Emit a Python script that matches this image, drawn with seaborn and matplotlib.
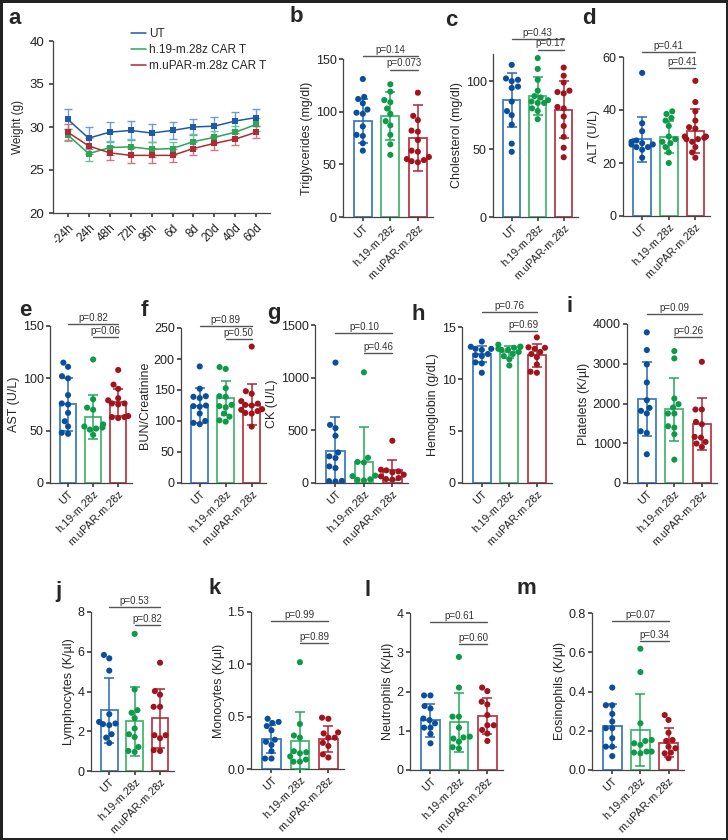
import warnings
import numpy as np
import pandas as pd
import matplotlib
matplotlib.use("Agg")
import matplotlib.pyplot as plt
import seaborn as sns

warnings.filterwarnings("ignore")

groups = ["UT", "h.19-m.28z", "m.uPAR-m.28z"]
line_labels = ["UT", "h.19-m.28z CAR T", "m.uPAR-m.28z CAR T"]

# panel a - body weight
times = ["-24h", "24h", "48h", "72h", "96h", "6d", "8d", "20d", "40d", "60d"]
wt_ut = [30.9, 28.7, 29.4, 29.6, 29.3, 29.6, 30.0, 30.1, 30.7, 31.1]
wt_h19 = [29.1, 26.9, 27.6, 27.7, 27.4, 27.5, 28.3, 28.8, 29.4, 30.3]
wt_mu = [29.4, 27.8, 27.0, 26.7, 26.7, 26.7, 27.5, 28.1, 28.6, 29.4]
wt_ut_sd = [1.15, 1.3, 1.2, 1.1, 1.0, 1.0, 0.9, 1.1, 1.0, 1.0]
wt_h19_sd = [0.7, 0.8, 0.8, 0.9, 0.9, 0.8, 0.9, 0.7, 0.7, 0.8]
wt_mu_sd = [0.9, 0.9, 0.8, 0.9, 0.9, 0.8, 0.8, 0.8, 0.7, 0.7]

# b - triglycerides
tg_pts = [[131, 114, 112, 108, 102, 99, 98, 86, 78, 77, 70, 63],
          [126, 119, 111, 109, 103, 98, 91, 87, 78, 69, 59],
          [118, 96, 92, 82, 81, 73, 63, 62, 57, 55, 54, 53, 52]]
tg_mean = [91, 96, 75]
tg_sd = [21, 23, 31]
# c - cholesterol
ch_pts = [[112, 102, 101, 100, 96, 95, 85, 78, 75, 68, 54, 48],
          [117, 109, 101, 93, 89, 88, 86, 85, 84, 84, 80, 78, 72],
          [110, 104, 99, 93, 92, 91, 81, 80, 74, 67, 59, 51, 44]]
ch_mean = [86, 89, 79]
ch_sd = [20, 14, 21]
# d - ALT
alt_pts = [[54, 35, 32, 28.5, 28, 27.5, 27, 27, 26, 26, 25, 22],
           [39.5, 38.5, 37, 36, 34, 30, 29, 28, 27.5, 26, 24, 20],
           [51, 43, 39.5, 36, 33.5, 33, 30, 30, 29.5, 29, 29, 28, 26, 24, 22]]
alt_mean = [29, 29.7, 32]
alt_sd = [8.5, 6, 8.3]
# e - AST
ast_pts = [[115, 111, 102, 100, 84, 76, 75, 67, 59, 54, 48, 47],
           [118, 80, 72, 70, 56, 54, 53, 52, 51, 46],
           [108, 94, 90, 81, 79, 76, 76, 75, 64, 63, 63, 62]]
ast_mean = [75, 63, 77]
ast_sd = [25, 21, 13]
# f - BUN/creatinine
bun_pts = [[188, 152, 140, 139, 137, 125, 124, 123, 112, 100, 97, 95],
           [187, 184, 153, 140, 139, 126, 124, 122, 112, 107, 101, 99],
           [220, 148, 144, 132, 128, 126, 125, 119, 118, 116, 113, 112, 91]]
bun_mean = [125, 137, 126]
bun_sd = [28, 28, 33]
# g - CK
ck_pts = [[1143, 552, 521, 448, 290, 253, 237, 158, 142, 20, 18, 15],
          [1051, 240, 200, 195, 70, 65, 35, 30, 25],
          [401, 126, 120, 110, 101, 79, 63, 47, 38, 32]]
ck_mean = [300, 200, 126]
ck_sd = [330, 330, 95]
# h - hemoglobin
hb_pts = [[13.6, 13.1, 12.9, 12.9, 12.8, 12.4, 12.3, 12.2, 11.6, 11.5, 10.6],
          [13.3, 13.1, 13.1, 13.0, 12.9, 12.8, 12.8, 12.6, 12.4, 12.2, 11.9, 11.3],
          [14.0, 13.05, 13.0, 12.9, 12.6, 12.4, 12.1, 11.4, 10.7, 10.6]]
hb_mean = [12.4, 12.6, 12.3]
hb_sd = [0.8, 0.6, 1.1]
# i - platelets
plt_pts = [[3790, 3345, 2983, 2529, 2084, 1890, 1815, 1750, 1302, 1260, 723],
           [3320, 3135, 2126, 1983, 1899, 1748, 1748, 1428, 1395, 1227, 588],
           [3050, 1849, 1849, 1538, 1479, 1160, 1143, 1034, 992, 908]]
plt_mean = [2110, 1850, 1480]
plt_sd = [940, 800, 650]
# j - lymphocytes
lym_pts = [[5.84, 5.67, 5.05, 2.86, 2.47, 2.39, 2.36, 2.31, 1.85, 1.68, 1.41],
           [6.9, 4.1, 3.06, 2.93, 2.66, 2.14, 1.85, 1.71, 1.21, 1.01, 0.96],
           [5.45, 4.02, 3.84, 3.23, 3.23, 1.8, 1.8, 1.65, 1.05, 1.01]]
lym_mean = [3.06, 2.5, 2.65]
lym_sd = [1.63, 1.75, 1.5]
# k - monocytes
mon_pts = [[0.48, 0.45, 0.44, 0.41, 0.37, 0.28, 0.26, 0.23, 0.17, 0.10, 0.10],
           [1.02, 0.43, 0.32, 0.30, 0.17, 0.16, 0.15, 0.12, 0.09, 0.07, 0.07],
           [0.49, 0.48, 0.35, 0.34, 0.30, 0.30, 0.25, 0.22, 0.14, 0.11]]
mon_mean = [0.29, 0.27, 0.29]
mon_sd = [0.135, 0.27, 0.125]
# l - neutrophils
neu_pts = [[1.9, 1.9, 1.63, 1.57, 1.31, 1.27, 1.19, 1.08, 1.08, 0.92, 0.68],
           [2.88, 2.1, 1.36, 1.36, 1.08, 0.85, 0.83, 0.8, 0.72, 0.58, 0.55],
           [2.1, 2.01, 1.74, 1.67, 1.4, 1.14, 1.14, 1.02, 0.93, 0.74]]
neu_mean = [1.27, 1.22, 1.38]
neu_sd = [0.42, 0.75, 0.46]
# m - eosinophils
eos_pts = [[0.42, 0.33, 0.33, 0.286, 0.247, 0.213, 0.213, 0.162, 0.119, 0.119, 0.071],
           [0.618, 0.499, 0.238, 0.153, 0.148, 0.136, 0.128, 0.094, 0.094, 0.089, 0.085],
           [0.28, 0.255, 0.19, 0.153, 0.148, 0.119, 0.111, 0.089, 0.085, 0.06]]
eos_mean = [0.225, 0.204, 0.14]
eos_sd = [0.11, 0.183, 0.072]

sns.set_theme(style="ticks")
plt.rcParams["font.family"] = ["Liberation Sans", "DejaVu Sans"]
plt.rcParams["axes.edgecolor"] = "#444444"
plt.rcParams["axes.linewidth"] = 0.9
plt.rcParams["xtick.color"] = "#444444"
plt.rcParams["ytick.color"] = "#444444"
plt.rcParams["xtick.labelcolor"] = "#222222"
plt.rcParams["ytick.labelcolor"] = "#222222"
plt.rcParams["xtick.major.size"] = 3
plt.rcParams["ytick.major.size"] = 3

dot_cols = ["#0b4f9c", "#0e9a48", "#a0141e"]
bar_cols = ["#3f7cc2", "#45b872", "#bb3a46"]
err_cols = ["#2a68b0", "#24a858", "#ad2633"]
line_cols = ["#1f5aa6", "#2ca55a", "#b22a35"]
line_err_cols = ["#6f9bd2", "#6cc48f", "#d07680"]

fig = plt.figure(figsize=(7.28, 8.4), dpi=100, linewidth=2.5, edgecolor="#222222")
W, H = 728, 840


def px_axes(left, top, right, bottom):
    return fig.add_axes([left / W, 1 - bottom / H, (right - left) / W, (bottom - top) / H])


def letter(x, y, s):
    fig.text(x / W, 1 - y / H, s, fontsize=16, fontweight="bold", ha="center", va="center")


# panel a
ax = px_axes(53, 41, 270, 213)
wt_df = pd.DataFrame({
    "time": times * 3,
    "weight": wt_ut + wt_h19 + wt_mu,
    "group": np.repeat(line_labels, len(times)),
})
sns.lineplot(data=wt_df, x="time", y="weight", hue="group", hue_order=line_labels,
             palette=line_cols, marker="s", markersize=5, markeredgewidth=0,
             linewidth=1.1, sort=False, ax=ax)
for vals, sds, c in zip([wt_ut, wt_h19, wt_mu], [wt_ut_sd, wt_h19_sd, wt_mu_sd], line_err_cols):
    ax.errorbar(times, vals, yerr=sds, fmt="none", ecolor=c, elinewidth=1, capsize=3, zorder=1)
ax.set_xlim(-0.7, 9.65)
ax.set_ylim(20, 40)
ax.set_yticks([20, 25, 30, 35, 40])
ax.set_xlabel("")
ax.set_ylabel("Weight (g)", fontsize=8.5)
ax.tick_params(axis="y", labelsize=9.5)
plt.setp(ax.get_xticklabels(), rotation=45, ha="right", rotation_mode="anchor", fontsize=8.5)
handles, labels = ax.get_legend_handles_labels()
for h in handles:
    h.set_marker("")
ax.legend(handles, labels, loc="upper left", bbox_to_anchor=(0.33, 1.11), frameon=False,
          fontsize=8.5, handlelength=1.3, handletextpad=0.3, labelspacing=0.35, borderpad=0)
sns.despine(ax=ax)
letter(15, 18, "a")


def bar_panel(rect, pts, means, sds, ylabel, ylim, yticks, pvals, pfrac, lab, labpos):
    ax = px_axes(*rect)
    pts_df = pd.DataFrame({
        "group": np.repeat(groups, [len(p) for p in pts]),
        "value": np.concatenate(pts),
    })
    mean_df = pd.DataFrame({"group": groups, "mean": means})
    sns.barplot(data=mean_df, x="group", y="mean", hue="group", order=groups, hue_order=groups,
                palette=bar_cols, fill=False, width=0.66, linewidth=1.3, errorbar=None,
                legend=False, ax=ax)
    xs = sorted(p.get_x() + p.get_width() / 2 for p in ax.patches)
    for x, m, s, c in zip(xs, means, sds, err_cols):
        ax.errorbar(x, m, yerr=s, fmt="none", ecolor=c, elinewidth=1.1, capsize=3.5,
                    capthick=1.1, zorder=3)
    sns.swarmplot(data=pts_df, x="group", y="value", hue="group", order=groups, hue_order=groups,
                  palette=dot_cols, size=4.4, legend=False, ax=ax, zorder=4)
    ax.set_xlim(-0.72, 2.55)
    ax.set_ylim(*ylim)
    ax.set_yticks(yticks)
    ax.set_xlabel("")
    ax.set_ylabel(ylabel, fontsize=9, labelpad=2)
    ax.tick_params(axis="y", labelsize=9, pad=1.5)
    ax.tick_params(axis="x", pad=1.5)
    plt.setp(ax.get_xticklabels(), rotation=45, ha="right", rotation_mode="anchor", fontsize=7.8)
    sns.despine(ax=ax)
    top = ylim[1]
    for (x0, x1), frac, p in zip([(xs[0], xs[2]), (xs[1], xs[2])], pfrac, pvals):
        y = top * frac
        ax.plot([x0, x1], [y, y], color="#555555", lw=1, clip_on=False)
        ax.annotate(p, xy=((x0 + x1) / 2, y), xytext=(0, 0.8), textcoords="offset points",
                    ha="center", va="bottom", fontsize=7, color="#333333",
                    annotation_clip=False)
    letter(labpos[0], labpos[1], lab)
    return ax


bar_panel((343, 59, 433, 217), tg_pts, tg_mean, tg_sd, "Triglycerides (mg/dl)", (0, 150),
          [0, 50, 100, 150], ["p=0.14", "p=0.073"], (1.017, 0.933), "b", (296, 16))
bar_panel((493, 54, 578, 217), ch_pts, ch_mean, ch_sd, "Cholesterol (mg/dl)", (0, 120),
          [0, 50, 100], ["p=0.43", "p=0.17"], (1.09, 1.027), "c", (451, 20))
bar_panel((623, 57, 710, 216), alt_pts, alt_mean, alt_sd, "ALT (U/L)", (0, 60),
          [0, 20, 40, 60], ["p=0.41", "p=0.41"], (1.03, 0.93), "d", (589, 19))
bar_panel((50, 326, 132, 483), ast_pts, ast_mean, ast_sd, "AST (U/L)", (0, 150),
          [0, 50, 100, 150], ["p=0.82", "p=0.06"], (1.01, 0.93), "e", (25, 310))
bar_panel((181, 328, 266, 483), bun_pts, bun_mean, bun_sd, "BUN/Creatinine", (0, 250),
          [0, 50, 100, 150, 200, 250], ["p=0.89", "p=0.50"], (1.015, 0.93), "f", (144, 310))
bar_panel((315, 325, 408, 483), ck_pts, ck_mean, ck_sd, "CK (U/L)", (0, 1500),
          [0, 500, 1000, 1500], ["p=0.10", "p=0.46"], (0.95, 0.825), "g", (274, 313))
bar_panel((462, 327, 552, 483), hb_pts, hb_mean, hb_sd, "Hemoglobin (g/dL)", (0, 15),
          [0, 5, 10, 15], ["p=0.76", "p=0.69"], (1.095, 0.975), "h", (418, 314))
bar_panel((627, 324, 717, 483), plt_pts, plt_mean, plt_sd, "Platelets (K/µl)", (0, 4000),
          [0, 1000, 2000, 3000, 4000], ["p=0.09", "p=0.26"], (1.06, 0.92), "i", (570, 307))
bar_panel((91, 612, 174, 771), lym_pts, lym_mean, lym_sd, "Lymphocytes (K/µl)", (0, 8),
          [0, 2, 4, 6, 8], ["p=0.53", "p=0.82"], (1.03, 0.92), "j", (58, 592))
bar_panel((251, 612, 344, 769), mon_pts, mon_mean, mon_sd, "Monocytes (K/µl)", (0, 1.5),
          [0.0, 0.5, 1.0, 1.5], ["p=0.99", "p=0.89"], (0.94, 0.80), "k", (215, 588))
bar_panel((410, 613, 503, 770), neu_pts, neu_mean, neu_sd, "Neutrophils (K/µl)", (0, 4),
          [0, 1, 2, 3, 4], ["p=0.61", "p=0.60"], (0.94, 0.805), "l", (368, 590))
bar_panel((592, 613, 684, 770), eos_pts, eos_mean, eos_sd, "Eosinophils (K/µl)", (0, 0.8),
          [0.0, 0.2, 0.4, 0.6, 0.8], ["p=0.07", "p=0.34"], (0.95, 0.82), "m", (526, 589))

fig.savefig("out.png", dpi=100, edgecolor=fig.get_edgecolor())
